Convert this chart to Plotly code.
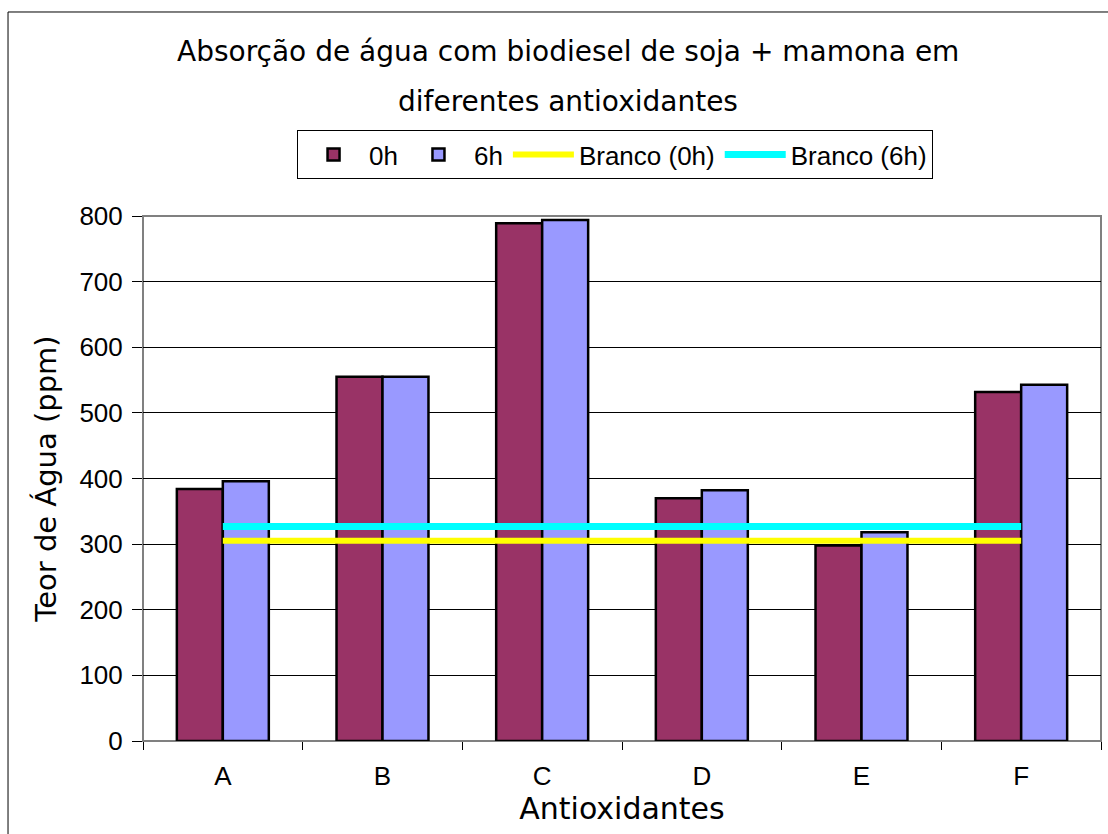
import plotly.graph_objects as go

# Water content (ppm) for each antioxidant, soybean + castor biodiesel
categories = ["A", "B", "C", "D", "E", "F"]
teor_0h = [384, 555, 789, 370, 298, 532]
teor_6h = [396, 555, 794, 382, 318, 543]
branco_0h = 305
branco_6h = 327
y_ticks = [0, 100, 200, 300, 400, 500, 600, 700, 800]

title_font = "DejaVu Sans, sans-serif"
body_font = "Arial, Liberation Sans, sans-serif"

fig = go.Figure()
fig.add_trace(go.Bar(
    x=categories, y=teor_0h, name="0h",
    marker=dict(color="#993366", line=dict(color="#000000", width=2.5)),
))
fig.add_trace(go.Bar(
    x=categories, y=teor_6h, name="6h",
    marker=dict(color="#9999FF", line=dict(color="#000000", width=2.5)),
))
fig.add_trace(go.Scatter(
    x=categories, y=[branco_0h] * len(categories), name="Branco (0h)",
    mode="lines", line=dict(color="#FFFF00", width=6),
))
fig.add_trace(go.Scatter(
    x=categories, y=[branco_6h] * len(categories), name="Branco (6h)",
    mode="lines", line=dict(color="#00FFFF", width=7),
))

fig.update_layout(
    width=1108, height=834,
    margin=dict(l=143, r=7, t=216, b=93),
    paper_bgcolor="#FFFFFF", plot_bgcolor="#FFFFFF",
    barmode="group", bargap=0.424, bargroupgap=0,
    showlegend=True,
    legend=dict(
        orientation="h", x=0.1608, xanchor="left", y=1.1638, yanchor="top",
        bordercolor="#000000", borderwidth=1, bgcolor="#FFFFFF",
        font=dict(family=body_font, size=26, color="#000000"),
        itemwidth=61, tracegroupgap=0,
    ),
    xaxis=dict(
        type="category", tickson="boundaries", ticks="outside", ticklen=8,
        tickcolor="#000000", tickwidth=1, showgrid=False, showline=False,
        ticklabelstandoff=17,
        tickfont=dict(family=body_font, size=26, color="#000000"),
        title=dict(text="Antioxidantes", standoff=0,
                   font=dict(family=title_font, size=30, color="#000000")),
    ),
    yaxis=dict(
        range=[0, 800], tickvals=y_ticks, ticks="outside", ticklen=10,
        tickcolor="#000000", tickwidth=1, showgrid=True, gridcolor="#000000",
        gridwidth=1, zeroline=False, showline=False,
        ticklabelstandoff=4,
        tickfont=dict(family=body_font, size=26, color="#000000"),
        title=dict(text="Teor de Água (ppm)", standoff=14,
                   font=dict(family=title_font, size=29, color="#000000")),
    ),
    annotations=[
        dict(text="Absorção de água com biodiesel de soja + mamona em",
             xref="paper", yref="paper", x=0.4436, y=1.3124,
             xanchor="center", yanchor="middle", showarrow=False,
             font=dict(family=title_font, size=28, color="#000000")),
        dict(text="diferentes antioxidantes",
             xref="paper", yref="paper", x=0.4436, y=1.218,
             xanchor="center", yanchor="middle", showarrow=False,
             font=dict(family=title_font, size=28, color="#000000")),
    ],
    shapes=[
        # plot area frame
        dict(type="rect", xref="paper", yref="paper", x0=0, x1=1, y0=0, y1=1,
             line=dict(color="#808080", width=2), layer="below"),
        # chart area frame
        dict(type="rect", xref="paper", yref="paper", x0=-0.1409, x1=1.2,
             y0=-0.4, y1=1.3886, line=dict(color="#000000", width=1)),
    ],
)

fig.write_html("out.html")
